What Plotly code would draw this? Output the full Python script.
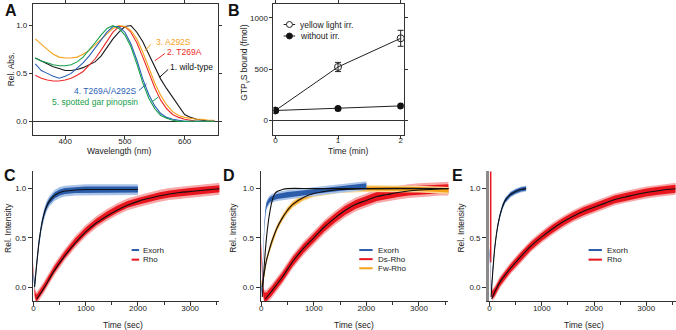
import plotly.graph_objects as go

W, H = 676, 330
def fx(p): return p / W
def fy(p): return 1 - p / H

FONT = "Liberation Sans, Arial, Helvetica, sans-serif"
AX = "#333333"

# ---------------- Panel A: absorption spectra ----------------
WL = list(range(350, 651, 10))
A_WT = [0.66, 0.63, 0.60, 0.57, 0.55, 0.53, 0.53, 0.54, 0.56, 0.59, 0.62, 0.68, 0.77, 0.86, 0.93, 0.99,
        1.00, 0.93, 0.83, 0.70, 0.56, 0.44, 0.34, 0.25, 0.15, 0.07, 0.04, 0.02, 0.01, 0.00, 0.00]
A_T269A = [0.48, 0.45, 0.43, 0.42, 0.42, 0.43, 0.45, 0.48, 0.52, 0.58, 0.65, 0.74, 0.84, 0.93, 0.99, 0.99,
           0.93, 0.82, 0.67, 0.50, 0.35, 0.22, 0.13, 0.07, 0.04, 0.02, 0.01, 0.00, 0.00, 0.00, 0.00]
A_A292S = [0.86, 0.80, 0.75, 0.70, 0.67, 0.66, 0.66, 0.67, 0.70, 0.74, 0.80, 0.86, 0.92, 0.97, 1.00, 0.99,
           0.95, 0.86, 0.72, 0.56, 0.40, 0.27, 0.17, 0.10, 0.06, 0.04, 0.03, 0.02, 0.02, 0.01, 0.01]
A_DOUBLE = [0.60, 0.53, 0.50, 0.47, 0.45, 0.47, 0.50, 0.55, 0.61, 0.68, 0.76, 0.85, 0.93, 0.99, 0.99, 0.93,
            0.81, 0.64, 0.44, 0.28, 0.16, 0.08, 0.04, 0.02, 0.01, 0.00, 0.00, 0.00, 0.00, 0.00, 0.00]
A_GAR = [0.66, 0.63, 0.61, 0.59, 0.58, 0.58, 0.59, 0.62, 0.67, 0.74, 0.82, 0.90, 0.97, 1.00, 0.97, 0.90,
         0.78, 0.60, 0.40, 0.24, 0.13, 0.06, 0.03, 0.01, 0.00, 0.00, 0.00, 0.00, 0.00, 0.00, 0.00]
A_NAMES = ["1. wild-type", "2. T269A", "3. A292S", "4. T269A/A292S", "5. spotted gar pinopsin"]
A_COLORS = ["#1a1a1a", "#ee2a2a", "#f7a21b", "#2b5fb4", "#17a04a"]

# ---------------- Panel B: GTPgammaS binding ----------------
B_T = [0, 1, 2]
B_IRR = [95, 520, 800]
B_IRR_ERR = [0, 45, 78]
B_DARK = [95, 115, 140]

# ---------------- Panel C ----------------
C_EXO_T = [0, 10, 20, 40, 60, 80, 100, 150, 200, 250, 300, 400, 500, 600, 700, 800, 1000, 1200, 1400, 1600, 1800, 2000]
C_EXO_V = [0.12, 0.05, 0.02, 0.12, 0.24, 0.34, 0.44, 0.62, 0.74, 0.82, 0.87, 0.93, 0.96, 0.975, 0.98, 0.985,
           0.99, 0.99, 0.99, 0.99, 0.99, 0.99]
C_EXO_FIT_T = [20, 40, 60, 80, 100, 150, 200, 250, 300, 400, 500, 600, 800, 1000, 1500, 2000]
C_EXO_FIT_V = [0.0, 0.12, 0.24, 0.34, 0.44, 0.62, 0.74, 0.82, 0.87, 0.93, 0.96, 0.975, 0.985, 0.99, 0.99, 0.99]
C_RHO_T = [0, 10, 20, 40, 60, 100, 200, 400, 600, 800, 1000, 1200, 1400, 1600, 1800, 2000, 2200, 2400, 2600,
           2800, 3000, 3200, 3400, 3600]
C_RHO_V = [0.2, 0.08, -0.05, -0.1, -0.11, -0.08, 0.0, 0.18, 0.33, 0.46, 0.57, 0.66, 0.73, 0.79, 0.84, 0.87, 0.9,
           0.925, 0.945, 0.96, 0.97, 0.98, 0.99, 1.0]
C_RHO_FIT_T = [60, 100, 200, 400, 600, 800, 1000, 1200, 1400, 1600, 1800, 2000, 2200, 2400, 2600, 2800, 3000,
               3200, 3400, 3600]
C_RHO_FIT_V = [-0.12, -0.09, -0.01, 0.17, 0.32, 0.45, 0.56, 0.65, 0.72, 0.78, 0.83, 0.87, 0.9, 0.925, 0.945,
               0.96, 0.97, 0.98, 0.99, 1.0]

# ---------------- Panel D ----------------
D_EXO_T = [0, 10, 20, 40, 60, 80, 100, 150, 200, 300, 400, 500, 700, 1000, 1300, 1600, 2000]
D_EXO_V = [0.0, -0.05, 0.1, 0.4, 0.62, 0.76, 0.83, 0.88, 0.9, 0.92, 0.93, 0.94, 0.95, 0.97, 0.99, 1.01, 1.03]
D_EXO_FIT_T = [20, 40, 60, 80, 100, 130, 160, 200, 250, 300, 400, 500, 1000, 2000, 3600]
D_EXO_FIT_V = [-0.1, 0.08, 0.24, 0.38, 0.5, 0.64, 0.75, 0.86, 0.94, 0.97, 0.99, 1.0, 1.0, 1.0, 1.0]
D_FW_T = [0, 20, 50, 100, 150, 200, 300, 400, 500, 600, 800, 1000, 1200, 1500, 2000, 2500, 3000, 3600]
D_FW_V = [0.05, 0.0, 0.12, 0.27, 0.37, 0.46, 0.6, 0.7, 0.78, 0.84, 0.91, 0.95, 0.97, 0.99, 1.0, 1.0, 0.995, 0.98]
D_FW_FIT_T = [20, 50, 100, 150, 200, 300, 400, 500, 600, 800, 1000, 1200, 1500, 2000, 3600]
D_FW_FIT_V = [0.0, 0.12, 0.27, 0.37, 0.46, 0.6, 0.7, 0.78, 0.84, 0.91, 0.95, 0.97, 0.99, 1.0, 1.0]
D_DS_T = [0, 10, 20, 40, 60, 100, 200, 400, 600, 800, 1000, 1200, 1400, 1600, 1800, 2000, 2200, 2400, 2600,
          2800, 3000, 3200, 3400, 3600]
D_DS_V = [0.4, 0.3, 0.1, -0.05, -0.1, -0.1, -0.04, 0.1, 0.26, 0.39, 0.5, 0.61, 0.7, 0.78, 0.84, 0.88, 0.92,
          0.94, 0.96, 0.975, 0.985, 0.99, 1.0, 1.0]
D_DS_FIT_T = [80, 200, 400, 600, 800, 1000, 1200, 1400, 1600, 1800, 2000, 2200, 2400, 2600, 2800, 3000, 3200,
              3400, 3600]
D_DS_FIT_V = [-0.12, -0.04, 0.1, 0.26, 0.39, 0.5, 0.61, 0.7, 0.78, 0.84, 0.88, 0.92, 0.94, 0.96, 0.975, 0.985,
              0.99, 1.0, 1.0]

# ---------------- Panel E ----------------
E_EXO_T = [0, 10, 20, 30, 60, 100, 150, 200, 250, 300, 400, 500, 600, 700]
E_EXO_V = [0.38, 0.3, 0.05, -0.05, 0.16, 0.4, 0.6, 0.73, 0.82, 0.88, 0.94, 0.97, 0.99, 1.0]
E_EXO_FIT_T = [30, 60, 100, 150, 200, 250, 300, 400, 500, 600, 700]
E_EXO_FIT_V = [-0.1, 0.14, 0.4, 0.6, 0.73, 0.82, 0.88, 0.94, 0.97, 0.99, 1.0]
E_SPIKE_T = [22, 22]
E_SPIKE_V = [1.3, 0.25]
E_RHO_T = [22, 30, 50, 100, 200, 400, 600, 800, 1000, 1200, 1400, 1600, 1800, 2000, 2200, 2400, 2600, 2800,
           3000, 3200, 3400, 3600]
E_RHO_V = [0.2, 0.0, -0.08, -0.05, 0.05, 0.19, 0.31, 0.42, 0.51, 0.59, 0.66, 0.72, 0.77, 0.81, 0.85, 0.89,
           0.915, 0.94, 0.96, 0.975, 0.99, 1.0]
E_RHO_FIT_T = [40, 100, 200, 400, 600, 800, 1000, 1200, 1400, 1600, 1800, 2000, 2200, 2400, 2600, 2800, 3000,
               3200, 3400, 3600]
E_RHO_FIT_V = [-0.12, -0.05, 0.05, 0.19, 0.31, 0.42, 0.51, 0.59, 0.66, 0.72, 0.77, 0.81, 0.85, 0.89, 0.915,
               0.94, 0.96, 0.975, 0.99, 1.0]

BLUE, BLUE_L = "#2a5caa", "#a9c3e8"
RED, RED_L = "#e8141e", "#f7a8a8"
ORANGE, ORANGE_L = "#f5a31a", "#fbd594"

fig = go.Figure()

# Panel A traces
for name, vals, col in zip(A_NAMES, [A_WT, A_T269A, A_A292S, A_DOUBLE, A_GAR], A_COLORS):
    fig.add_trace(go.Scatter(x=WL, y=vals, mode="lines", line=dict(color=col, width=1.1),
                             name=name, showlegend=False, xaxis="x", yaxis="y"))

# Panel B traces
fig.add_trace(go.Scatter(x=B_T, y=B_IRR, mode="lines+markers", showlegend=False,
                         line=dict(color="#222", width=1),
                         marker=dict(symbol="circle-open", size=7, color="#222", line=dict(width=1)),
                         error_y=dict(type="data", array=B_IRR_ERR, color="#222", thickness=1, width=3),
                         xaxis="x2", yaxis="y2"))
fig.add_trace(go.Scatter(x=B_T, y=B_DARK, mode="lines+markers", showlegend=False,
                         line=dict(color="#222", width=1),
                         marker=dict(symbol="circle", size=7, color="#111"),
                         xaxis="x2", yaxis="y2"))


def band(t, v, hw, color, xa, ya):
    xs = list(t) + list(t)[::-1]
    ys = [a + hw for a in v] + [a - hw for a in v][::-1]
    fig.add_trace(go.Scatter(x=xs, y=ys, fill="toself", fillcolor=color, mode="lines",
                             line=dict(width=0, color=color), showlegend=False, hoverinfo="skip",
                             xaxis=xa, yaxis=ya))


def trace(t, v, color, light, hw, hwl, xa, ya):
    band(t, v, hwl, light, xa, ya)
    band(t, v, hw, color, xa, ya)


def fit(t, v, xa, ya):
    fig.add_trace(go.Scatter(x=t, y=v, mode="lines", line=dict(color="#111", width=1.1, shape="spline"),
                             showlegend=False, xaxis=xa, yaxis=ya))

# Panel C
trace(C_RHO_T, C_RHO_V, RED, RED_L, 0.035, 0.06, "x3", "y3")
trace(C_EXO_T, C_EXO_V, BLUE, BLUE_L, 0.03, 0.055, "x3", "y3")
fit(C_EXO_FIT_T, C_EXO_FIT_V, "x3", "y3")
fit(C_RHO_FIT_T, C_RHO_FIT_V, "x3", "y3")

# Panel D
trace(D_DS_T, D_DS_V, RED, RED_L, 0.045, 0.07, "x4", "y4")
trace(D_FW_T, D_FW_V, ORANGE, ORANGE_L, 0.02, 0.035, "x4", "y4")
trace(D_EXO_T, D_EXO_V, BLUE, BLUE_L, 0.025, 0.045, "x4", "y4")
fit(D_EXO_FIT_T, D_EXO_FIT_V, "x4", "y4")
fit(D_FW_FIT_T, D_FW_FIT_V, "x4", "y4")
fit(D_DS_FIT_T, D_DS_FIT_V, "x4", "y4")

# Panel E
trace(E_RHO_T, E_RHO_V, RED, RED_L, 0.04, 0.06, "x5", "y5")
fig.add_trace(go.Scatter(x=E_SPIKE_T, y=E_SPIKE_V, mode="lines", line=dict(color=RED, width=1.5),
                         showlegend=False, xaxis="x5", yaxis="y5"))
trace(E_EXO_T, E_EXO_V, BLUE, BLUE_L, 0.02, 0.03, "x5", "y5")
fit(E_EXO_FIT_T, E_EXO_FIT_V, "x5", "y5")
fit(E_RHO_FIT_T, E_RHO_FIT_V, "x5", "y5")

tickfont = dict(family=FONT, size=8, color="#222")

def axis(domain, rng, anchor, **kw):
    d = dict(domain=domain, range=rng, anchor=anchor, showline=True, linecolor=AX, linewidth=1,
             ticks="outside", ticklen=3, tickcolor=AX, tickwidth=1, showgrid=False, zeroline=False,
             tickfont=tickfont, fixedrange=True)
    d.update(kw)
    return d

KIN_Y = dict(tickvals=[0, 0.5, 1.0], ticktext=["0.0", "0.5", "1.0"], ticklen=4)
KIN_X = dict(tickvals=[0, 1000, 2000, 3000], ticklen=4, ticklabelstandoff=-5,
             minor=dict(tickvals=[500, 1500, 2500, 3500], ticklen=3, ticks="outside", tickcolor=AX))
KIN_YD = [fy(300.7), fy(170)]
KIN_YR = [-0.141, 1.174]
KIN_XR = [-13, 3560]

fig.update_layout(
    width=W, height=H, margin=dict(l=0, r=0, t=0, b=0),
    paper_bgcolor="white", plot_bgcolor="white", showlegend=False,
    font=dict(family=FONT, size=8, color="#222"),
    xaxis=axis([fx(31), fx(216.7)], [346, 656], "y", mirror="ticks", tickvals=[400, 500, 600],
               ticklabelstandoff=-5),
    yaxis=axis([fy(133.3), fy(1)], [-0.145, 1.225], "x", mirror="ticks",
               tickvals=[0, 0.5, 1.0], ticktext=["0.0", "0.5", "1.0"],
               zeroline=True, zerolinecolor=AX, zerolinewidth=1),
    xaxis2=axis([fx(272.3), fx(403)], [-0.03, 2.05], "y2", mirror="ticks", tickvals=[0, 1, 2],
                ticklabelstandoff=-5),
    yaxis2=axis([fy(133), fy(1)], [-142, 1135], "x2", mirror="ticks", tickvals=[0, 500, 1000],
                zeroline=True, zerolinecolor=AX, zerolinewidth=1),
    xaxis3=axis([fx(31), fx(218)], KIN_XR, "y3", **KIN_X),
    yaxis3=axis(KIN_YD, KIN_YR, "x3", **KIN_Y),
    xaxis4=axis([fx(259.3), fx(447.7)], KIN_XR, "y4", **KIN_X),
    yaxis4=axis(KIN_YD, KIN_YR, "x4", **KIN_Y),
    xaxis5=axis([fx(488.3), fx(675.5)], KIN_XR, "y5", **KIN_X),
    yaxis5=axis(KIN_YD, KIN_YR, "x5", linecolor="#8a8a8a", linewidth=2.5, **KIN_Y),
)

ann = []
shapes = []

def text(x, y, s, size=8.5, color="#222", angle=0, xanchor="center", bold=False):
    ann.append(dict(x=fx(x), y=fy(y), xref="paper", yref="paper", text=("<b>%s</b>" % s) if bold else s,
                    showarrow=False, textangle=angle, xanchor=xanchor, yanchor="middle",
                    font=dict(family=FONT, size=size, color=color)))

def seg(x0, y0, x1, y1, color, width=1):
    shapes.append(dict(type="line", xref="paper", yref="paper", x0=fx(x0), y0=fy(y0), x1=fx(x1), y1=fy(y1),
                       line=dict(color=color, width=width)))

# panel letters
for L, x, y in [("A", 9, 8), ("B", 233, 8), ("C", 8, 174), ("D", 228, 174), ("E", 457, 174)]:
    text(x, y, L, size=16, color="#111", bold=True)

# axis titles
text(9, 67, "Rel. Abs.", angle=-90)
text(118, 149.5, "Wavelength (nm)")
text(243, 60, "GTP<sub>γ</sub>S bound (fmol)", angle=-90)
text(346.7, 149, "Time (min)")
for xt, xl in [(6, 121.7), (231.5, 353.3), (460, 583.3)]:
    text(xt, 227, "Rel. Intensity", angle=-90)
    text(xl, 325, "Time (sec)")

# panel A labels + leader lines
text(152.7, 39.3, "3. A292S", color=A_COLORS[2], xanchor="left")
seg(149.3, 41.7, 143.3, 48.3, A_COLORS[2])
text(163, 49.3, "2. T269A", color=A_COLORS[1], xanchor="left")
seg(163.3, 51, 153.3, 58.3, A_COLORS[1])
text(166.7, 65, "1. wild-type", color="#111", xanchor="left")
seg(166.7, 67, 158, 75, "#111")
text(70.7, 89.3, "4. T269A/A292S", color=A_COLORS[3], xanchor="left")
seg(137.3, 88.3, 145, 81.7, A_COLORS[3])
text(48.3, 100, "5. spotted gar pinopsin", color=A_COLORS[4], xanchor="left")
seg(150, 100, 156.7, 95, A_COLORS[4])

# panel B legend
for yy, lab, filled in [(21.7, "yellow light irr.", False), (33.3, "without irr.", True)]:
    seg(282.5, yy, 294, yy, "#222")
    shapes.append(dict(type="circle", xref="paper", yref="paper",
                       x0=fx(285.3), x1=fx(291.3), y0=fy(yy + 3), y1=fy(yy - 3),
                       fillcolor="#111" if filled else "white", line=dict(color="#222", width=1)))
    text(296.7, yy, lab, xanchor="left")

# kinetics legends
def klegend(x0, x1, xt, items):
    for yy, lab, col in items:
        seg(x0, yy, x1, yy, col, width=2)
        text(xt, yy, lab, size=8, xanchor="left")

klegend(130, 137.5, 139, [(249.3, "Exorh", BLUE), (259, "Rho", RED)])
klegend(358.3, 371.7, 375, [(249.3, "Exorh", BLUE), (258.5, "Ds-Rho", RED), (267.7, "Fw-Rho", ORANGE)])
klegend(588.3, 601.7, 604.5, [(249.3, "Exorh", BLUE), (259, "Rho", RED)])

fig.update_layout(annotations=ann, shapes=shapes)
fig.write_html("out.html", config={"displayModeBar": False},
               post_script="document.body.style.margin='0px';document.body.style.overflow='hidden';")
